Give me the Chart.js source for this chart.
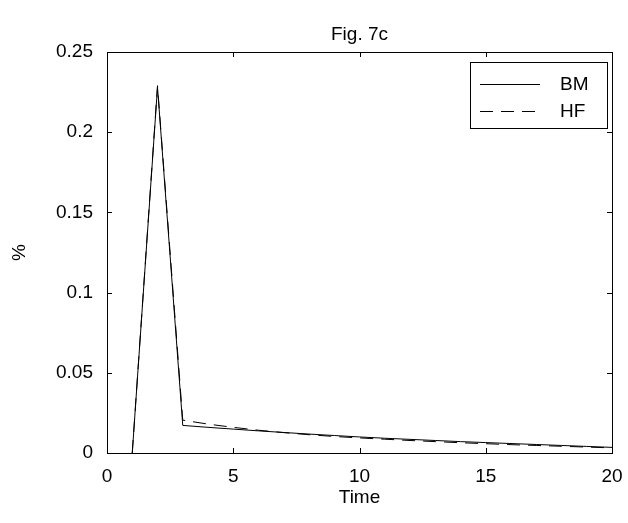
<!DOCTYPE html><html><head><script src="https://cdn.jsdelivr.net/npm/chart.js@4"></script>
<style>body{margin:0;background:#fff}#w{width:628px;height:523px}</style></head><body><div id="w"><canvas id="c"></canvas></div>
<script>
const times=[1,2,3,4,5,6,7,8,9,10,11,12,13,14,15,16,17,18,19,20];
const bm=[0,0.228,0.0172,0.0160,0.0149,0.0138,0.0128,0.0118,0.0109,0.0100,0.0092,0.0085,0.0078,0.0071,0.0065,0.0059,0.0053,0.0047,0.0041,0.0035];
const hf=[0,0.229,0.0205,0.0180,0.0160,0.0142,0.0127,0.0114,0.0103,0.0094,0.0086,0.0078,0.0071,0.0064,0.0058,0.0052,0.0047,0.0042,0.0037,0.0032];
const xTicks=[0,5,10,15,20], yTicks=[0,0.05,0.1,0.15,0.2,0.25];
const F='"Liberation Sans", Arial, sans-serif';
const pts=a=>a.map((v,i)=>({x:times[i],y:v}));
const deco={id:'deco',afterDraw(ch){const c=ch.ctx,a=ch.chartArea,xs=ch.scales.x,ys=ch.scales.y;c.save();c.strokeStyle='#000';c.lineWidth=1;
c.strokeRect(a.left+.5,a.top+.5,a.right-a.left,a.bottom-a.top);
c.beginPath();xTicks.forEach(t=>{const p=Math.round(xs.getPixelForValue(t))+.5;c.moveTo(p,a.bottom);c.lineTo(p,a.bottom-5);c.moveTo(p,a.top);c.lineTo(p,a.top+5);});
yTicks.forEach(t=>{const p=Math.round(ys.getPixelForValue(t))+.5;c.moveTo(a.left,p);c.lineTo(a.left+5,p);c.moveTo(a.right,p);c.lineTo(a.right-5,p);});c.stroke();
c.fillStyle='#000';c.font='19px '+F;c.textAlign='center';c.textBaseline='middle';c.fillText('Fig. 7c',(a.left+a.right)/2,35);
const lx=470,ly=62,lw=137,lh=66;c.fillStyle='#fff';c.fillRect(lx,ly,lw,lh);c.strokeRect(lx+.5,ly+.5,lw,lh);
c.beginPath();c.moveTo(480,84.5);c.lineTo(540,84.5);c.stroke();
c.setLineDash([13,8]);c.beginPath();c.moveTo(480,111.5);c.lineTo(540,111.5);c.stroke();c.setLineDash([]);
c.textAlign='left';c.fillStyle='#000';c.fillText('BM',560,85);c.fillText('HF',560,112);c.restore();}};
new Chart(document.getElementById('c'),{type:'scatter',data:{datasets:[
{label:'BM',data:pts(bm),showLine:true,borderColor:'#000',borderWidth:1,pointRadius:0,tension:0},
{label:'HF',data:pts(hf),showLine:true,borderColor:'#000',borderWidth:1,borderDash:[13,8],pointRadius:0,tension:0}]},
options:{responsive:true,maintainAspectRatio:false,animation:false,layout:{padding:{top:52,right:16,left:8,bottom:14}},
plugins:{legend:{display:false},tooltip:{enabled:false}},
scales:{x:{type:'linear',min:0,max:20,afterBuildTicks:s=>{s.ticks=xTicks.map(v=>({value:v}))},afterFit:s=>{s.height=56},grid:{display:false},border:{display:false},
ticks:{color:'#000',font:{size:19,family:F},padding:4,maxRotation:0},title:{display:true,text:'Time',color:'#000',font:{size:19,family:F},padding:0}},
y:{min:0,max:0.25,afterBuildTicks:s=>{s.ticks=yTicks.map(v=>({value:v}))},afterFit:s=>{s.width=99},grid:{display:false},border:{display:false},
ticks:{color:'#000',font:{size:19,family:F},padding:6,callback:v=>String(v)},title:{display:true,text:'%',color:'#000',font:{size:19,family:F},padding:0}}}},
plugins:[deco]});
</script></body></html>
